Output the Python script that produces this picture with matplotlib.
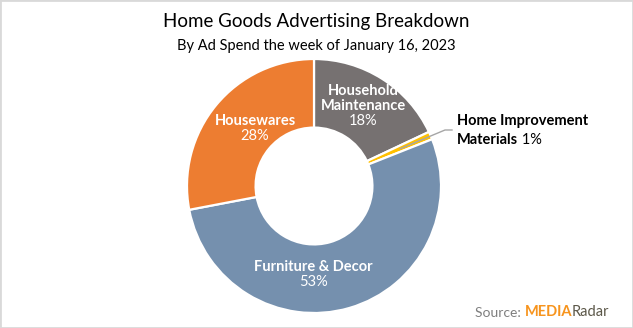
import numpy as np
import matplotlib
matplotlib.use("Agg")
import matplotlib.pyplot as plt
from matplotlib.patches import Rectangle

plt.rcParams['font.family'] = ['Lato', 'DejaVu Sans']

# ad spend share by category, clockwise from 12 o'clock
categories = ["Household\nMaintenance", "Home Improvement\nMaterials", "Furniture & Decor", "Housewares"]
shares = [18, 1, 53, 28]
colors = ["#767171", "#FFC000", "#7590AE", "#ED7D31"]

W, H = 633, 328
fig = plt.figure(figsize=(W / 100, H / 100), dpi=100)
ax = fig.add_axes([0, 0, 1, 1])

cx, cy, R = 314, 142, 127
wedges, _ = ax.pie(shares, colors=colors, startangle=90, counterclock=False,
                   center=(cx, cy), radius=R, frame=True,
                   wedgeprops=dict(width=R * 0.54, edgecolor="white", linewidth=1.6))
ax.set_xlim(0, W)
ax.set_ylim(0, H)
ax.set_aspect("equal")
ax.axis("off")

# in-ring labels
inside = {0: (363, 215), 2: (313, 54), 3: (255, 200)}
for i, (x, y) in inside.items():
    ax.text(x, y, categories[i], ha="center", va="bottom", color="white",
            fontsize=10.5, fontweight="bold", linespacing=1.1)
    ax.text(x, y - 1, f"{shares[i]}%", ha="center", va="top", color="white", fontsize=10.5)

# leader line for the thin slice
w = wedges[1]
mid = np.deg2rad((w.theta1 + w.theta2) / 2)
r0 = R * 0.74
x0, y0 = cx + r0 * np.cos(mid), cy + r0 * np.sin(mid)
ax.plot([x0, 445, 452], [y0, 198, 198], color="#A6A6A6", lw=1)
ax.text(457, 207, "Home Improvement", ha="left", va="center", fontsize=10.5,
        fontweight="bold", color="black")
t = ax.text(457, 188, "Materials", ha="left", va="center", fontsize=10.5,
            fontweight="bold", color="black")
ax.annotate(f" {shares[1]}%", xy=(1, 0.5), xycoords=t, va="center", ha="left",
            fontsize=10.5, color="black")

fig.text(0.5, 1 - 22 / H, "Home Goods Advertising Breakdown", ha="center", va="center",
         fontsize=13.5, color="black")
fig.text(0.5, 1 - 46 / H, "By Ad Spend the week of January 16, 2023", ha="center",
         va="center", fontsize=10.5, color="black")

# source credit
s = fig.text(475 / W, 1 - 313 / H, "Source: ", ha="left", va="center", fontsize=10,
             color="#7F7F7F")
m = ax.annotate("MEDIA", xy=(1, 0), xycoords=s, va="bottom", ha="left",
                fontsize=10.5, fontweight="bold", color="#F7941D")
ax.annotate("Radar", xy=(1, 0), xycoords=m, va="bottom", ha="left",
            fontsize=10.5, color="#5C5849")

fig.patches.append(Rectangle((0, 0), 1, 1, transform=fig.transFigure, fill=False,
                             edgecolor="#D9D9D9", lw=2))

fig.savefig("out.png", dpi=100, facecolor="white")
